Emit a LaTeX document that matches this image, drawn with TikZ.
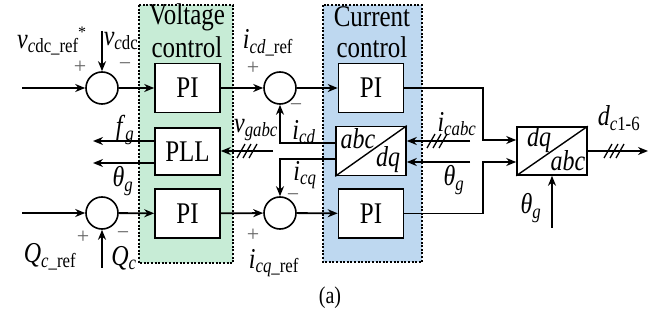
\documentclass[tikz,border=0pt]{standalone}
\usepackage{fontspec}
\usepackage{graphicx}
\setmainfont{Liberation Serif}
\usetikzlibrary{arrows.meta,calc}
\definecolor{vgreen}{RGB}{199,236,214}
\definecolor{cblue}{RGB}{190,216,240}
\newcommand{\sbs}[1]{\textsubscript{#1}}
\newcommand{\st}[1]{\scalebox{1}[1.2]{#1}}
\begin{document}
\begin{tikzpicture}[x=1pt,y=-1pt,
  wire/.style={line width=1.8pt},
  arr/.style={-{Stealth[length=10pt,width=8pt]}},
  blk/.style={draw,line width=1.6pt,fill=white,minimum width=65pt,minimum height=49pt,inner sep=0pt,font=\fontsize{25}{30}\selectfont},
  tbox/.style={draw,line width=1.6pt,fill=white,minimum width=70pt,minimum height=48pt,inner sep=0pt},
  sumc/.style={circle,draw,line width=1.6pt,fill=white,minimum size=32pt,inner sep=0pt},
  lbl/.style={inner sep=0pt,font=\fontsize{24}{28}\selectfont},
  sgn/.style={inner sep=0pt,text=black!60,font=\fontsize{22}{24}\selectfont},
  ttl/.style={inner sep=0pt,font=\fontsize{25}{30}\selectfont},
  region/.style={line width=1.4pt,dash pattern=on 2pt off 1.6pt},
  slash3/.pic={\foreach \d in {-6,0,6} \draw[line width=1.3pt] ({\d-4},7) -- ({\d+4},-7);}
]
\useasboundingbox (0,0) rectangle (661,320);
% regions
\fill[vgreen] (139,5) rectangle (233,263);
\draw[region] (139,5) rectangle (233,263);
\fill[cblue] (323,5) rectangle (422,262);
\draw[region] (323,5) rectangle (422,262);
\node[ttl] (vt1) at (187,17) {\st{Voltage}};
\node[ttl] (vt2) at (187,47) {\st{control}};
\node[ttl] (ct1) at (372,17) {\st{Current}};
\node[ttl] (ct2) at (372,47) {\st{control}};
% blocks
\node[sumc] (s1) at (102,88) {};
\node[blk] (pi1) at (187.5,88) {\st{PI}};
\node[sumc] (s2) at (280,88) {};
\node[blk] (pic1) at (371,88) {\st{PI}};
\node[blk,minimum height=47pt] (pll) at (187.5,151.5) {\st{PLL}};
\node[tbox,minimum height=49pt] (t1) at (371,151) {};
\node[tbox] (t2) at (552,151) {};
\node[sumc] (s4) at (102,213) {};
\node[blk] (pi2) at (187.5,213.5) {\st{PI}};
\node[sumc] (s3) at (280,213) {};
\node[blk] (pic2) at (371,213.5) {\st{PI}};
\draw[line width=1.4pt] (t1.south west) -- (t1.north east);
\draw[line width=1.4pt] (t2.south west) -- (t2.north east);
\node[lbl] (t1a) at (358,139) {\st{\textit{abc}}};
\node[lbl] (t1b) at (388,160) {\st{\textit{dq}}};
\node[lbl] (t2a) at (539,140) {\st{\textit{dq}}};
\node[lbl] (t2b) at (568,161) {\st{\textit{abc}}};
% wires top row
\coordinate (in1) at (22,88);
\coordinate (vin) at (102,31);
\draw[wire,arr] (in1) -- (s1);
\draw[wire,arr] (vin) -- (s1);
\draw[wire,arr] (s1) -- (pi1);
\draw[wire,arr] (pi1) -- (s2);
\draw[wire,arr] (s2) -- (pic1);
% bottom row
\coordinate (in2) at (22,213);
\coordinate (qin) at (102,268);
\draw[wire,arr] (in2) -- (s4);
\draw[wire,arr] (qin) -- (s4);
\draw[wire,arr] (s4) -- (pi2);
\draw[wire,arr] (pi2) -- (s3);
\draw[wire,arr] (s3) -- (pic2);
% abc/dq feedback
\draw[wire,arr] ($(t1.west)+(0,-8)$) -| (s2.south);
\draw[wire,arr] ($(t1.west)+(0,8)$) -| (s3.north);
\coordinate (ic) at (470,141);
\coordinate (thc) at (470,162);
\draw[wire,arr] (ic) -- (t1.east |- ic);
\draw[wire,arr] (thc) -- (t1.east |- thc);
\pic at (437,141) {slash3};
% PLL
\coordinate (vg) at (273,151);
\coordinate (fg) at (93,141);
\coordinate (thg) at (93,163);
\draw[wire,arr] (vg) -- (pll.east |- vg);
\pic at (247,151) {slash3};
\draw[wire,arr] (pll.west |- fg) -- (fg);
\draw[wire,arr] (pll.west |- thg) -- (thg);
% dq/abc
\draw[wire,arr] (pic1.east) -| ($(t2.west)+(-33,-11)$) -- ($(t2.west)+(0,-11)$);
\draw[wire,arr] (pic2.east) -| ($(t2.west)+(-33,11)$) -- ($(t2.west)+(0,11)$);
\coordinate (dout) at (648,151);
\coordinate (th2) at (552,228);
\draw[wire,arr] (t2.east) -- (dout);
\pic at (614,151) {slash3};
\draw[wire,arr] (th2) -- (t2.south);
% labels
\node[lbl] (l1) at (48,45) {\st{\textit{v}\sbs{\textit{c}dc\_ref}}};
\node[lbl] (l1s) at (82,32) {\fontsize{16}{18}\selectfont *};
\node[lbl] (l2) at (121,41) {\st{\textit{v}\sbs{\textit{c}dc}}};
\node[sgn] (p1) at (80,67) {+};
\node[sgn] (m1) at (125,67) {−};
\node[lbl] (l3) at (268,43) {\st{\textit{i}\sbs{\textit{cd}\_ref}}};
\node[sgn] (p2) at (253,68) {+};
\node[lbl] (l4) at (125,130) {\st{\textit{f}\sbs{\textit{g}}}};
\node[lbl] (l5) at (256,130) {\st{\textit{v}\sbs{\textit{gabc}}}};
\node[sgn] (m2) at (296,108) {−};
\node[lbl] (l6) at (304,132) {\st{\textit{i}\sbs{\textit{cd}}}};
\node[lbl] (l7) at (123,181) {\st{\textit{θ}\sbs{\textit{g}}}};
\node[lbl] (l8) at (305,175) {\st{\textit{i}\sbs{\textit{cq}}}};
\node[sgn] (m3) at (293,198) {−};
\node[sgn] (p3) at (83,237) {+};
\node[sgn] (m4) at (123,236) {−};
\node[lbl] (l9) at (50,257) {\st{\textit{Q}\sbs{\textit{c}\_ref}}};
\node[lbl] (l10) at (124,258) {\st{\textit{Q}\sbs{\textit{c}}}};
\node[sgn] (p4) at (253,235) {+};
\node[lbl] (l11) at (274,263) {\st{\textit{i}\sbs{\textit{cq}\_ref}}};
\node[lbl] (l12) at (457,124) {\st{\textit{i}\sbs{\textit{cabc}}}};
\node[lbl] (l13) at (454,180) {\st{\textit{θ}\sbs{\textit{g}}}};
\node[lbl] (l14) at (619,118) {\st{\textit{d}\sbs{\textit{c}1-6}}};
\node[lbl] (l15) at (531,208) {\st{\textit{θ}\sbs{\textit{g}}}};
\node[inner sep=0pt,font=\fontsize{20}{24}\selectfont] (cap) at (330,298) {\st{(a)}};
\end{tikzpicture}
\end{document}
